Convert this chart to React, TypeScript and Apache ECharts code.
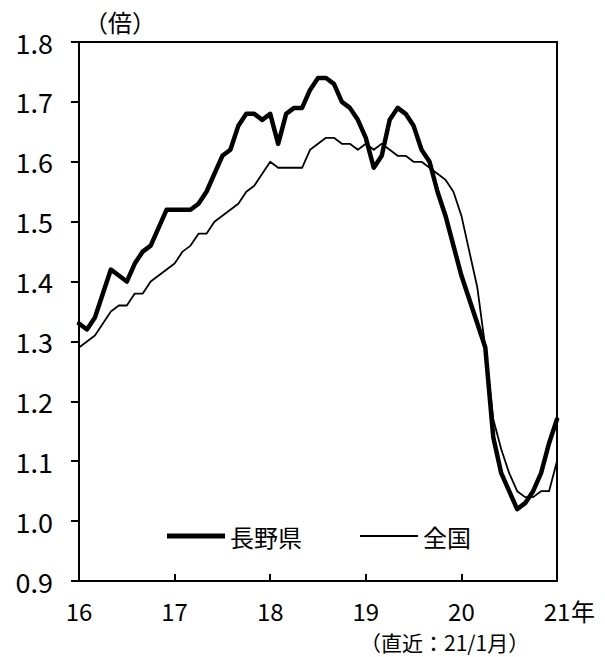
import React, { useEffect, useRef } from "react";
import * as echarts from "echarts";

// Monthly data, 2016/01 .. 2021/01
const startYear = 16;
const naganoValues = [
  1.33, 1.32, 1.34, 1.38, 1.42, 1.41, 1.40, 1.43, 1.45, 1.46, 1.49, 1.52,
  1.52, 1.52, 1.52, 1.53, 1.55, 1.58, 1.61, 1.62, 1.66, 1.68, 1.68, 1.67,
  1.68, 1.63, 1.68, 1.69, 1.69, 1.72, 1.74, 1.74, 1.73, 1.70, 1.69, 1.67,
  1.64, 1.59, 1.61, 1.67, 1.69, 1.68, 1.66, 1.62, 1.60, 1.55, 1.51, 1.46,
  1.41, 1.37, 1.33, 1.29, 1.14, 1.08, 1.05, 1.02, 1.03, 1.05, 1.08, 1.13,
  1.17,
];
const nationalValues = [
  1.29, 1.30, 1.31, 1.33, 1.35, 1.36, 1.36, 1.38, 1.38, 1.40, 1.41, 1.42,
  1.43, 1.45, 1.46, 1.48, 1.48, 1.50, 1.51, 1.52, 1.53, 1.55, 1.56, 1.58,
  1.60, 1.59, 1.59, 1.59, 1.59, 1.62, 1.63, 1.64, 1.64, 1.63, 1.63, 1.62,
  1.63, 1.62, 1.63, 1.62, 1.61, 1.61, 1.60, 1.60, 1.59, 1.58, 1.57, 1.55,
  1.51, 1.45, 1.39, 1.29, 1.17, 1.12, 1.08, 1.05, 1.04, 1.04, 1.05, 1.05,
  1.10,
];
const seriesNames = ["長野県", "全国"];
const yMin = 0.9;
const yMax = 1.8;
const yInterval = 0.1;
const xMin = 16;
const xMax = 21;
const unitLabel = "（倍）";
const yearSuffix = "年";
const noteLabel = "（直近：21/1月）";

const NUM_FONT = '"Noto Sans CJK JP", sans-serif';
const CJK_FONT = '"Noto Sans CJK JP", sans-serif';

const toPoints = (vals: number[]) =>
  vals.map((v, i) => [startYear + i / 12, v]);

export default function App() {
  const ref = useRef<HTMLDivElement>(null);
  useEffect(() => {
    if (!ref.current) return;
    const chart = echarts.init(ref.current, null, { renderer: "svg" });
    chart.setOption({
      animation: false,
      backgroundColor: "#ffffff",
      textStyle: { fontFamily: CJK_FONT, color: "#000" },
      grid: {
        left: 79,
        right: 48,
        top: 42,
        bottom: 76,
        show: true,
        borderColor: "#000",
        borderWidth: 2,
        backgroundColor: "transparent",
      },
      legend: {
        left: 162,
        top: 519,
        itemWidth: 58,
        itemHeight: 14,
        itemGap: 58,
        symbolKeepAspect: true,
        data: [
          { name: seriesNames[0], icon: "path://M0,0h58v5h-58z" },
          { name: seriesNames[1], icon: "path://M0,0h58v2h-58z" },
        ],
        itemStyle: { color: "#000" },
        textStyle: { fontFamily: CJK_FONT, fontSize: 24, color: "#000" },
      },
      xAxis: {
        type: "value",
        min: xMin,
        max: xMax,
        interval: 1,
        axisLine: { lineStyle: { color: "#000", width: 2 } },
        axisTick: { inside: true, length: 7, lineStyle: { color: "#000", width: 2 } },
        splitLine: { show: false },
        axisLabel: {
          margin: 17,
          fontSize: 24,
          lineHeight: 24,
          fontFamily: NUM_FONT,
          color: "#000",
          formatter: (v: number) => String(v),
        },
      },
      yAxis: {
        type: "value",
        min: yMin,
        max: yMax,
        interval: yInterval,
        axisLine: { show: true, lineStyle: { color: "#000", width: 2 } },
        axisTick: { show: true, inside: false, length: 8, lineStyle: { color: "#000", width: 2 } },
        splitLine: { show: false },
        axisLabel: {
          margin: 26,
          fontSize: 27,
          fontFamily: NUM_FONT,
          color: "#000",
          formatter: (v: number) => v.toFixed(1),
        },
      },
      series: [
        {
          name: seriesNames[0],
          type: "line",
          data: toPoints(naganoValues),
          symbol: "none",
          lineStyle: { color: "#000", width: 4.5, join: "round", cap: "round" },
          itemStyle: { color: "#000" },
        },
        {
          name: seriesNames[1],
          type: "line",
          data: toPoints(nationalValues),
          symbol: "none",
          lineStyle: { color: "#000", width: 1.8, join: "round" },
          itemStyle: { color: "#000" },
        },
      ],
      graphic: [
        {
          type: "text",
          left: 84,
          top: 9,
          style: { text: unitLabel, font: `24px ${CJK_FONT}`, fill: "#000" },
        },
        {
          type: "text",
          left: 571,
          top: 598,
          style: { text: yearSuffix, font: `24px ${CJK_FONT}`, fill: "#000" },
        },
        {
          type: "text",
          left: 360,
          top: 631,
          style: {
            text: noteLabel,
            font: `21px ${CJK_FONT}`,
            lineHeight: 22,
            fill: "#000",
          },
        },
      ],
    });
    return () => chart.dispose();
  }, []);
  return (
    <div
      ref={ref}
      style={{ position: "fixed", left: 0, top: 0, width: 605, height: 657 }}
    />
  );
}
